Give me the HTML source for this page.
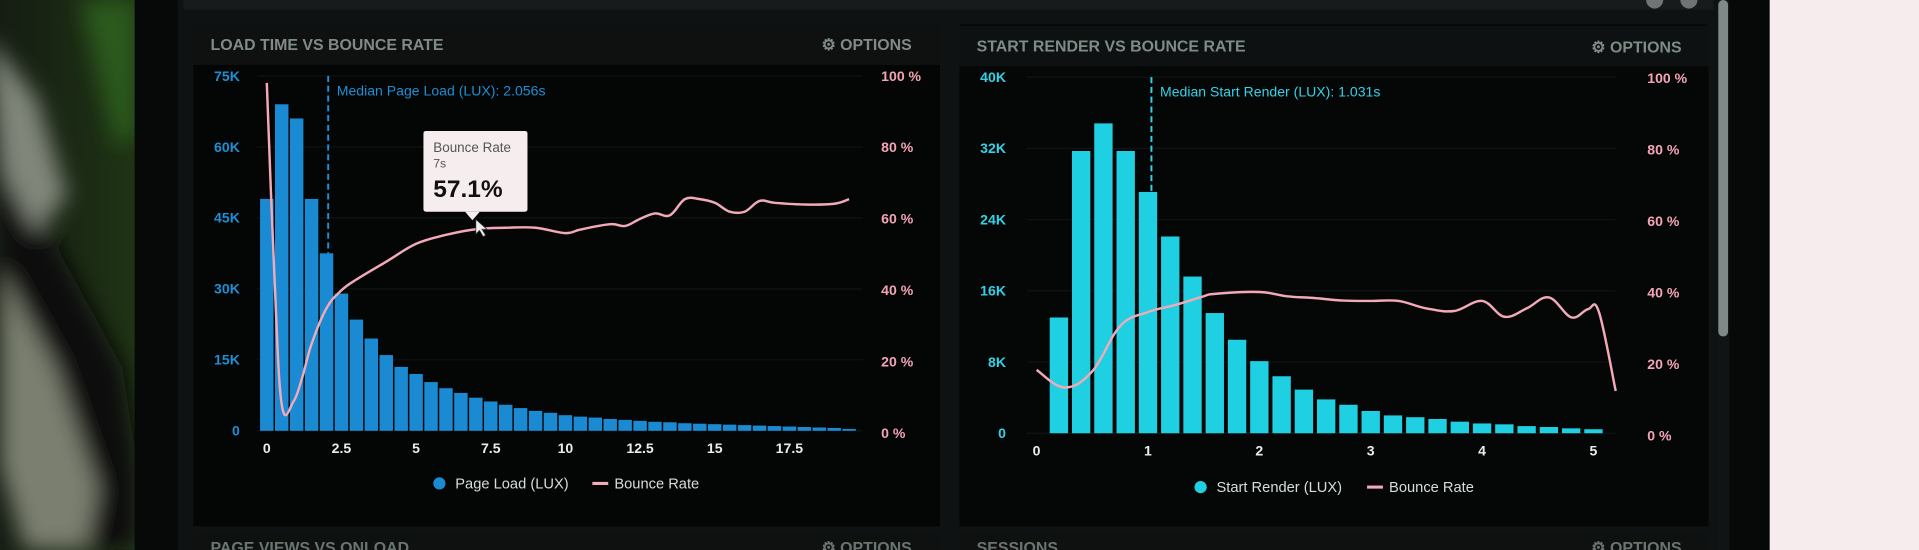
<!DOCTYPE html>
<html><head><meta charset="utf-8"><style>
html,body{margin:0;padding:0;background:#0b0d0d;overflow:hidden}
svg{display:block}
text{font-family:"Liberation Sans",sans-serif}
</style></head><body>
<svg id="root" width="1919" height="550" viewBox="0 0 1568 449.4" preserveAspectRatio="none" xmlns="http://www.w3.org/2000/svg">
<defs>
<filter id="blur" x="-50%" y="-50%" width="200%" height="200%"><feGaussianBlur stdDeviation="9"/></filter>
<linearGradient id="plantg" x1="0" y1="0" x2="1" y2="0"><stop offset="0" stop-color="#151c13"/><stop offset="1" stop-color="#1f3414"/></linearGradient>
</defs>
<g>
<rect x="0" y="0" width="112" height="449.4" fill="url(#plantg)"/>
<g filter="url(#blur)">
<path d="M0,120 L40,190 L100,300 L112,380 L112,449 L60,449 L0,330 Z" fill="#0a0d09"/>
<path d="M-10,30 L30,80 L55,160 L30,190 L0,140 Z" fill="#80867a"/>
<path d="M0,220 L45,300 L80,400 L70,449 L20,449 L0,380 Z" fill="#7a7f70"/>
<path d="M65,0 L112,0 L112,110 L95,120 Z" fill="#2c5a1c"/>
</g>
</g>
<rect x="110" y="0" width="1340" height="449.4" fill="#070808"/>
<rect x="145" y="0" width="1258" height="449.4" fill="#0f1212"/>
<rect x="1403" y="0" width="10" height="449.4" fill="#101414"/>
<rect x="1404" y="0" width="8" height="275" rx="4" fill="#7f8a88"/>
<rect x="1446" y="0" width="122" height="449.4" fill="#f6eced"/>
<g>
<rect x="150" y="0" width="1250" height="8" fill="#171b1b"/>
<circle cx="1352" cy="0" r="7" fill="#6f7574"/><circle cx="1380" cy="0" r="7" fill="#6f7574"/>
</g>

<g>
<rect x="158" y="20" width="610" height="410" fill="#040505"/>
<rect x="158" y="20" width="610" height="33" fill="#0f1111"/>
<text x="172" y="41" font-size="13" font-weight="bold" fill="#7f8b85">LOAD TIME VS BOUNCE RATE</text>
<text x="745" y="41" font-size="13" font-weight="bold" fill="#7f8b85" text-anchor="end">⚙ OPTIONS</text>
<g id="c1"></g>
</g>
<g>
<rect x="784" y="20" width="612" height="410" fill="#050707"/>
<rect x="784" y="21" width="612" height="33" fill="#0e1111"/>
<text x="798" y="42" font-size="13" font-weight="bold" fill="#7f8b85">START RENDER VS BOUNCE RATE</text>
<text x="1374" y="43" font-size="13" font-weight="bold" fill="#7f8b85" text-anchor="end">⚙ OPTIONS</text>
<g id="c2"></g>
</g>
<g>
<rect x="158" y="436" width="610" height="14" fill="#0f1111"/>
<rect x="784" y="436" width="612" height="14" fill="#0f1111"/>
<text x="172" y="452" font-size="13" font-weight="bold" fill="#6a7570">PAGE VIEWS VS ONLOAD</text>
<text x="798" y="452" font-size="13" font-weight="bold" fill="#6a7570">SESSIONS</text>
<text x="745" y="452" font-size="13" font-weight="bold" fill="#6a7570" text-anchor="end">⚙ OPTIONS</text>
<text x="1374" y="452" font-size="13" font-weight="bold" fill="#6a7570" text-anchor="end">⚙ OPTIONS</text>
</g>
</svg>
<script>
// Chart 1 data: Load time vs bounce rate
const c1Counts = [49,69,66,49,37.5,29,23.5,19.5,16,13.5,12,10.3,9,8,7,6.2,5.5,4.8,4.2,3.8,3.3,3,2.8,2.5,2.3,2.1,1.9,1.8,1.6,1.5,1.4,1.3,1.2,1.1,1.0,0.9,0.8,0.7,0.6,0.4];
const c1BinStep = 0.5;
const c1BounceX = [0,0.25,0.5,0.9,1.2,1.5,2,2.5,3,4,5,6,7,8,9,10,10.5,11.5,12,12.5,13,13.5,14,14.5,15,15.5,16,16.5,17,18,19,19.5];
const c1BounceY = [98,45,8,9,16,25,35,40,43,48,53,55.5,57.1,57.5,57.5,56,57,58.5,58,60,61.5,61,65.5,65.5,64.5,62,62,65,64.5,64,64.2,65.5];
const c1LeftTicks = [0,15,30,45,60,75];
const c1LeftLabels = ["0","15K","30K","45K","60K","75K"];
const c1RightTicks = [0,20,40,60,80,100];
const c1XTicks = [0,2.5,5,7.5,10,12.5,15,17.5];
const c1Median = 2.056;
// Chart 2 data: Start render vs bounce rate
const c2Counts = [13,31.7,34.8,31.7,27.1,22.1,17.6,13.5,10.5,8.1,6.4,4.9,3.8,3.2,2.5,2.0,1.8,1.6,1.3,1.1,1.0,0.8,0.7,0.55,0.45];
const c2BinStep = 0.2;
const c2BounceX = [0,0.25,0.5,0.75,1,1.25,1.5,1.6,2,2.25,2.5,2.75,3,3.25,3.5,3.75,4,4.2,4.4,4.6,4.8,4.95,5.05,5.2];
const c2BounceY = [18.4,13.5,18,30.7,34.6,36.6,39,39.7,40.2,39,38.5,37.8,37.7,37.7,35.6,34.9,37.7,33.3,35.6,38.7,33.1,35.4,34.6,12.5];
const c2LeftTicks = [0,8,16,24,32,40];
const c2LeftLabels = ["0","8K","16K","24K","32K","40K"];
const c2RightTicks = [0,20,40,60,80,100];
const c2XTicks = [0,1,2,3,4,5];
const c2Median = 1.031;

const NS="http://www.w3.org/2000/svg";
function mk(parent,tag,attrs,text){const e=document.createElementNS(NS,tag);for(const k in attrs)e.setAttribute(k,attrs[k]);if(text!==undefined)e.textContent=text;parent.appendChild(e);return e;}

function smoothPath(pts){
  let d='M'+pts[0][0].toFixed(1)+','+pts[0][1].toFixed(1);
  for(let i=0;i<pts.length-1;i++){
    const p0=pts[Math.max(0,i-1)],p1=pts[i],p2=pts[i+1],p3=pts[Math.min(pts.length-1,i+2)];
    const t=0.18;
    const c1x=p1[0]+(p2[0]-p0[0])*t,c1y=p1[1]+(p2[1]-p0[1])*t;
    const c2x=p2[0]-(p3[0]-p1[0])*t,c2y=p2[1]-(p3[1]-p1[1])*t;
    d+=' C'+c1x.toFixed(1)+','+c1y.toFixed(1)+' '+c2x.toFixed(1)+','+c2y.toFixed(1)+' '+p2[0].toFixed(1)+','+p2[1].toFixed(1);
  }
  return d;
}

function drawChart(g,cfg){
  const xs=v=>cfg.x0+v*cfg.xPer;
  const yl=v=>cfg.base-(v/cfg.lMax)*(cfg.base-cfg.top);
  const yr=v=>cfg.rBase-(v/100)*(cfg.rBase-cfg.rTop);
  cfg.lTicks.forEach((t,i)=>{
    const gl=mk(g,'line',{x1:cfg.x0-8,x2:cfg.gridEnd,y1:yl(t),y2:yl(t),stroke:'#101313','stroke-width':1});
    
    
    const tl=mk(g,'text',{x:cfg.lLabelX,y:yl(t)+4,'font-size':11.5,'font-weight':'bold',fill:cfg.lColor,'text-anchor':'end'},cfg.lLabels[i]);
    
    
  });
  cfg.rTicks.forEach(t=>{
    const tl=mk(g,'text',{x:cfg.rLabelX,y:yr(t)+4,'font-size':11.5,'font-weight':'bold',fill:'#f3a4b6'},t+' %');
    
    
  });
  cfg.xTicks.forEach(t=>{
    const tl=mk(g,'text',{x:xs(t),y:cfg.base+18,'font-size':11.5,'font-weight':'bold',fill:'#e8eeee','text-anchor':'middle'},String(t));
    
    
  });
  cfg.counts.forEach((v,i)=>{
    const cx=xs((i+cfg.barOffset)*cfg.step);
    const b=mk(g,'rect',{x:cx-cfg.barW/2,y:yl(v),width:cfg.barW,height:cfg.base-yl(v),fill:cfg.barColor});
    
    
  });
  const mx=xs(cfg.median);
  const mi=Math.floor(cfg.median/cfg.step-cfg.barOffset+0.5);
  const ml=mk(g,'line',{x1:mx,x2:mx,y1:cfg.top,y2:yl(cfg.counts[Math.max(0,mi)]),stroke:cfg.lColor,'stroke-width':1.6,'stroke-dasharray':'5,3'});
  
  
  const mt=mk(g,'text',{x:mx+7,y:cfg.top+16,'font-size':11.5,fill:cfg.lColor},cfg.medianLabel);
  
  
  const pts=cfg.bx.map((x,i)=>[xs(x),yr(cfg.by[i])]);
  const p=mk(g,'path',{d:smoothPath(pts),fill:'none',stroke:'#f2a9b8','stroke-width':2,'stroke-linejoin':'round'});
  
  
  const lg=mk(g,'g',{});
  
  
  const dot=mk(lg,'circle',{cx:cfg.legX,cy:cfg.legY-4,r:5,fill:cfg.barColor});
  
  
  const lt1=mk(lg,'text',{x:cfg.legX+13,y:cfg.legY,'font-size':12,fill:'#d6dddd'},cfg.barLabel);
  
  
  const lx=cfg.legX+cfg.legGap;
  const ln=mk(lg,'line',{x1:lx,x2:lx+13,y1:cfg.legY-4,y2:cfg.legY-4,stroke:'#f2a9b8','stroke-width':2.5});
  
  
  const lt2=mk(lg,'text',{x:lx+18,y:cfg.legY,'font-size':12,fill:'#d6dddd'},'Bounce Rate');
  
  
  return {xs,yr};
}

const g1=document.getElementById('c1');
const a1=drawChart(g1,{x0:218,xPer:61/2.5,base:352,top:62,lMax:75,rBase:354,rTop:62,gridEnd:705,
  lLabelX:196,rLabelX:720,lColor:'#1d8fd4',barColor:'#1a8ad2',barW:11,barOffset:0,step:c1BinStep,
  counts:c1Counts,lTicks:c1LeftTicks,lLabels:c1LeftLabels,rTicks:c1RightTicks,xTicks:c1XTicks,
  median:c1Median,medianLabel:'Median Page Load (LUX): 2.056s',bx:c1BounceX,by:c1BounceY,
  legX:359,legY:399,legGap:125,barLabel:'Page Load (LUX)'});
const tt=mk(g1,'g',{});


mk(tt,'rect',{x:346,y:107,width:85,height:66,rx:2,fill:'#f6eeee'});
mk(tt,'path',{d:'M380,173 L386,180 L392,173 Z',fill:'#f6eeee'});
const t1=mk(tt,'text',{x:354,y:124,'font-size':11,fill:'#555'},'Bounce Rate');


const t2=mk(tt,'text',{x:354,y:137,'font-size':10,fill:'#555'},'7s');


const t3=mk(tt,'text',{x:354,y:161,'font-size':20,'font-weight':'bold',fill:'#111'},'57.1%');


const cur=mk(tt,'path',{d:'M'+a1.xs(7)+','+(a1.yr(57.1)-8)+' l0,12 l3,-3 l3,5 l2,-1 l-3,-5 l4,0 Z',fill:'#eee',stroke:'#333','stroke-width':0.6});



const g2=document.getElementById('c2');
drawChart(g2,{x0:847,xPer:91,base:354,top:63,lMax:40,rBase:356,rTop:64,gridEnd:1320,
  lLabelX:822,rLabelX:1346,lColor:'#33d2e6',barColor:'#1ed0e2',barW:15,barOffset:1,step:c2BinStep,
  counts:c2Counts,lTicks:c2LeftTicks,lLabels:c2LeftLabels,rTicks:c2RightTicks,xTicks:c2XTicks,
  median:c2Median,medianLabel:'Median Start Render (LUX): 1.031s',bx:c2BounceX,by:c2BounceY,
  legX:981,legY:402,legGap:136,barLabel:'Start Render (LUX)'});
</script>
</body></html>
